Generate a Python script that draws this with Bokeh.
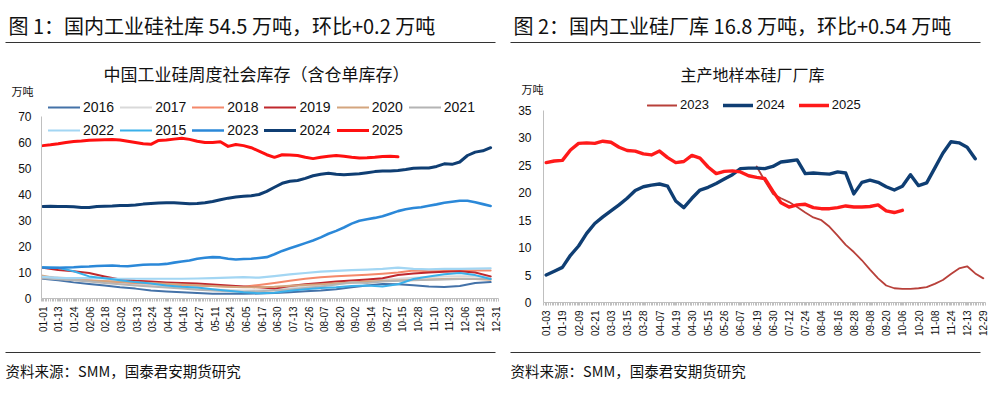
import numpy as np
from bokeh.plotting import figure
from bokeh.models import Range1d, FixedTicker, Label, Legend, LegendItem
from bokeh.layouts import row
from bokeh.embed import file_html
from bokeh.resources import INLINE

# ---------------- data: left chart (social inventory, 万吨) ----------------
LEFT_TICKS = ["01-01", "01-13", "01-24", "02-06", "02-18", "03-02", "03-13", "03-24",
              "04-04", "04-16", "04-27", "05-11", "05-24", "06-05", "06-17", "06-30",
              "07-13", "07-26", "08-07", "08-20", "09-02", "09-14", "09-27", "10-15",
              "10-28", "11-10", "11-23", "12-06", "12-18", "12-31"]
LEFT_STEP = 0.494   # spacing of weekly samples, in tick-label units

SOC_2016 = [7.6, 7.0, 6.2, 5.6, 5.0, 4.3, 3.8, 3.1, 2.7, 2.4, 2.1, 1.8, 1.8, 1.8, 1.9,
            2.1, 2.4, 2.8, 3.1, 3.6, 4.3, 5.0, 5.6, 5.5, 5.1, 4.6, 4.4, 4.8, 6.0, 6.3]
SOC_2017 = [8.5, 8.2, 7.6, 7.0, 6.5, 6.0, 5.5, 5.0, 4.6, 4.2, 3.8, 3.5, 3.3, 3.1, 3.2,
            3.5, 4.0, 4.5, 5.0, 5.5, 6.0, 6.6, 7.2, 7.6, 8.0, 8.3, 8.5, 8.6, 8.6, 8.5]
SOC_2018 = [8.2, 7.8, 7.4, 7.0, 6.6, 6.3, 6.0, 5.8, 5.5, 5.2, 5.0, 4.8, 4.6, 4.5, 5.2,
            6.0, 6.8, 7.6, 8.2, 8.6, 8.8, 9.1, 9.5, 10.0, 10.8, 10.5, 10.6, 10.8, 10.8, 10.8]
SOC_2019 = [11.8, 11.0, 10.5, 9.8, 8.5, 7.3, 6.8, 6.5, 6.2, 6.0, 5.8, 5.4, 5.0, 4.6, 4.3,
            3.8, 4.8, 5.5, 6.0, 6.5, 6.9, 7.3, 7.8, 9.0, 9.6, 10.0, 10.3, 10.5, 10.0, 8.5]
SOC_2020 = [8.8, 7.6, 7.2, 6.8, 6.6, 6.4, 6.2, 6.0, 5.7, 5.4, 5.1, 4.8, 4.5, 4.3, 4.3,
            4.5, 4.9, 5.2, 5.5, 5.9, 6.2, 6.5, 6.7, 6.9, 7.1, 7.3, 7.5, 7.6, 7.5, 7.2]
SOC_2021 = [7.8, 7.4, 7.0, 6.5, 6.0, 5.5, 5.0, 4.6, 4.2, 3.8, 3.4, 3.1, 2.8, 2.6, 2.8,
            3.1, 3.5, 4.0, 4.6, 5.4, 6.2, 6.0, 6.5, 6.8, 7.0, 7.2, 7.3, 7.5, 7.6, 7.6]
SOC_2022 = [8.3, 7.9, 7.8, 7.8, 7.7, 7.6, 7.6, 7.6, 7.6, 7.6, 7.7, 7.8, 8.0, 8.2, 8.0,
            8.6, 9.3, 9.8, 10.3, 10.6, 10.9, 11.1, 11.4, 11.9, 11.4, 11.2, 11.4, 11.4, 11.5, 11.6]
SOC_2015 = [12.0, 11.8, 10.5, 8.5, 7.8, 7.0, 6.3, 5.8, 5.0, 4.5, 4.2, 3.6, 3.0, 2.4, 2.0,
            2.2, 3.0, 3.6, 4.0, 4.3, 4.8, 5.0, 4.6, 5.5, 7.5, 8.5, 9.3, 9.8, 9.0, 7.5]
SOC_2023 = [11.9, 11.8, 11.8, 11.9, 12.0, 12.2, 12.3, 12.5, 12.6, 12.7, 12.5, 12.4, 12.7, 13.0,
            13.1, 13.1, 13.3, 13.8, 14.2, 14.6, 15.3, 15.7, 15.9, 15.8, 15.3, 15.0, 15.2, 15.3,
            15.6, 15.9, 17.0, 18.3, 19.3, 20.3, 21.3, 22.3, 23.5, 24.9, 26.0, 27.3, 28.8, 29.9,
            30.5, 31.0, 31.6, 32.6, 33.6, 34.3, 34.8, 35.1, 35.7, 36.2, 36.8, 37.2, 37.6, 37.6,
            37.0, 36.3, 35.6]
SOC_2024 = [35.4, 35.5, 35.4, 35.4, 35.3, 35.0, 35.0, 35.4, 35.5, 35.6, 35.8, 35.8, 36.0, 36.3,
            36.5, 36.7, 36.8, 36.8, 36.6, 36.4, 36.5, 36.8, 37.3, 38.0, 38.6, 39.0, 39.3, 39.5,
            40.0, 41.2, 42.8, 44.3, 45.1, 45.4, 46.2, 47.2, 47.8, 48.2, 47.8, 47.6, 47.8, 48.0,
            48.4, 48.8, 49.0, 49.0, 49.2, 49.6, 50.1, 50.2, 50.2, 50.8, 51.8, 51.6, 52.5, 55.0,
            56.3, 56.8, 58.0]
SOC_2025 = [58.8, 59.1, 59.5, 60.0, 60.4, 60.6, 60.9, 61.0, 61.1, 61.2, 61.0, 60.5, 60.0, 59.5,
            59.3, 60.8, 61.0, 61.3, 61.6, 61.2, 60.5, 60.0, 60.0, 60.3, 58.5, 59.2, 58.8, 58.0,
            56.7, 55.3, 54.3, 55.3, 55.2, 55.0, 54.3, 53.8, 54.3, 54.7, 55.0, 54.7, 54.3, 54.0,
            54.1, 54.3, 54.6, 54.7, 54.5]

LEFT_SERIES = [
    ("2016", SOC_2016, 2, "#4472A8", 2.0),
    ("2017", SOC_2017, 2, "#D9D9D9", 2.0),
    ("2018", SOC_2018, 2, "#F4886A", 2.0),
    ("2019", SOC_2019, 2, "#C0282D", 2.0),
    ("2020", SOC_2020, 2, "#D4A57E", 2.0),
    ("2021", SOC_2021, 2, "#B4B4B4", 2.0),
    ("2022", SOC_2022, 2, "#A3D6F3", 2.2),
    ("2015", SOC_2015, 2, "#3AB0EA", 2.0),
    ("2023", SOC_2023, 1, "#2B88D8", 2.6),
    ("2024", SOC_2024, 1, "#0F3E73", 3.0),
    ("2025", SOC_2025, 1, "#FF1010", 3.0),
]

# ---------------- data: right chart (factory inventory, 万吨) ----------------
RIGHT_TICKS = ["01-03", "01-19", "02-09", "02-21", "03-03", "03-15", "03-28", "04-07",
               "04-19", "04-30", "05-15", "05-26", "06-07", "06-19", "06-30", "07-12",
               "07-24", "08-04", "08-16", "08-28", "09-08", "09-20", "10-06", "10-20",
               "11-08", "11-24", "12-13", "12-29"]
RIGHT_STEP = 0.5
FAC_2023_START = 13.0
FAC_2023 = [24.8, 22.2, 19.8, 19.0, 18.3, 17.4, 16.4, 15.5, 15.0, 13.8, 12.2, 10.5, 9.2, 7.7,
            6.0, 4.4, 3.1, 2.6, 2.5, 2.5, 2.6, 2.8, 3.4, 4.1, 5.2, 6.2, 6.6, 5.3, 4.4]
FAC_2024 = [5.0, 5.7, 6.4, 8.6, 10.3, 12.6, 14.4, 15.6, 16.7, 17.8, 19.0, 20.4, 21.1, 21.4,
            21.6, 21.2, 18.5, 17.3, 19.0, 20.5, 21.0, 21.7, 22.5, 23.3, 24.4, 24.5, 24.5, 24.4,
            24.8, 25.6, 25.8, 26.0, 23.5, 23.6, 23.5, 23.4, 23.8, 23.6, 19.8, 21.9, 22.3, 21.9,
            21.1, 20.5, 21.2, 23.3, 21.3, 21.8, 24.5, 27.2, 29.3, 29.1, 28.3, 26.2]
FAC_2025 = [25.5, 25.8, 25.9, 27.8, 29.0, 29.1, 29.0, 29.4, 29.2, 28.3, 27.7, 27.6, 27.1, 26.9,
            27.6, 26.4, 25.5, 25.7, 26.8, 26.3, 24.7, 23.5, 23.9, 24.0, 23.8, 23.1, 22.8, 22.6,
            20.3, 18.2, 17.4, 17.8, 17.9, 17.3, 17.1, 17.1, 17.3, 17.6, 17.4, 17.4, 17.5, 17.8,
            16.7, 16.4, 16.8]

RIGHT_SERIES = [
    ("2023", FAC_2023, FAC_2023_START, "#B8403A", 1.8),
    ("2024", FAC_2024, 0.0, "#0F3E73", 3.4),
    ("2025", FAC_2025, 0.0, "#FF1A1A", 3.4),
]

CJK = "Noto Sans CJK SC"
LAT = "Liberation Sans"
AXIS_GRAY = "#BFBFBF"
TXT = "#111111"
H = 395


class Panel:
    """Pixel geometry of one panel: the frame is the whole canvas, axes sit at fixed spots."""

    def __init__(self, width, tick0_px, tick_px, zero_px, unit_px, axis_left_px, axis_right_px):
        self.w = width
        self.t0, self.tp = tick0_px, tick_px
        self.z0, self.up = zero_px, unit_px
        self.axl, self.axr = axis_left_px, axis_right_px

    def X(self, px):
        return (px - self.t0) / self.tp

    def Y(self, py):
        return (self.z0 - py) / self.up


def make_panel(g, labels, ymax, ystep, y_standoff):
    p = figure(width=g.w, height=H, output_backend="svg", toolbar_location=None,
               x_range=Range1d(g.X(0), g.X(g.w)), y_range=Range1d(g.Y(H), g.Y(0)),
               min_border=0, min_border_left=0, min_border_right=0,
               min_border_top=0, min_border_bottom=0)
    p.outline_line_color = None
    p.xgrid.visible = False
    p.ygrid.visible = False
    p.background_fill_color = "white"
    p.border_fill_color = "white"

    x0, x1 = g.X(g.axl), g.X(g.axr)
    xa = p.xaxis[0]
    xa.fixed_location = 0
    xa.bounds = (x0, x1)
    xa.ticker = FixedTicker(ticks=list(range(len(labels))),
                            minor_ticks=list(np.linspace(x0, x1, 260)))
    xa.major_label_overrides = {i: t for i, t in enumerate(labels)}
    xa.major_label_orientation = np.pi / 2
    xa.axis_line_color = AXIS_GRAY
    xa.major_tick_line_color = AXIS_GRAY
    xa.minor_tick_line_color = AXIS_GRAY
    xa.major_tick_out = 3
    xa.major_tick_in = 0
    xa.minor_tick_out = 3
    xa.minor_tick_in = 0
    xa.major_label_standoff = 5
    xa.major_label_text_font = LAT
    xa.major_label_text_font_size = "10px"
    xa.major_label_text_color = TXT

    ya = p.yaxis[0]
    ya.fixed_location = x0
    ya.bounds = (0, ymax)
    ya.ticker = FixedTicker(ticks=list(range(0, ymax + 1, ystep)), minor_ticks=[])
    ya.axis_line_color = AXIS_GRAY
    ya.major_tick_line_color = None
    ya.major_tick_out = 0
    ya.major_tick_in = 0
    ya.minor_tick_line_color = None
    ya.major_label_standoff = y_standoff
    ya.major_label_text_font = LAT
    ya.major_label_text_font_size = "12px"
    ya.major_label_text_color = TXT
    return p


def text(p, g, px, py, s, size, align="left"):
    p.add_layout(Label(x=g.X(px), y=g.Y(py), text=s, text_font=CJK, text_font_size=size,
                       text_baseline="middle", text_align=align, text_color=TXT))


def rule(p, g, px0, px1, py):
    p.segment(x0=[g.X(px0)], y0=[g.Y(py)], x1=[g.X(px1)], y1=[g.Y(py)],
              line_color="#333333", line_width=1.2)


def make_legend(items, vx, vy, gw, fs, spacing):
    return Legend(items=items, orientation="horizontal", location=(vx, vy),
                  glyph_width=gw, glyph_height=16, label_height=16, label_standoff=3,
                  spacing=spacing, padding=0, margin=0, border_line_color=None,
                  background_fill_alpha=0, label_text_font=LAT, label_text_font_size=fs,
                  label_text_color=TXT)


# ================= left panel =================
LW = 502
gl = Panel(LW, 42.3, 15.63, 298, 2.6, 41, 498)
pl = make_panel(gl, LEFT_TICKS, 70, 10, 10)
left_r = {}
for name, vals, mult, color, w in LEFT_SERIES:
    xs = np.arange(len(vals)) * LEFT_STEP * mult
    left_r[name] = pl.line(xs, vals, line_color=color, line_width=w,
                           line_join="round", line_cap="round")
row1 = ["2016", "2017", "2018", "2019", "2020", "2021"]
row2 = ["2022", "2015", "2023", "2024", "2025"]
pl.add_layout(make_legend([LegendItem(label=n, renderers=[left_r[n]]) for n in row1],
                          48, H - 114.5, 32, "14px", 6))
pl.add_layout(make_legend([LegendItem(label=n, renderers=[left_r[n]]) for n in row2],
                          48, H - 137.5, 32, "14px", 6))
text(pl, gl, 8, 25, "图 1：国内工业硅社库 54.5 万吨，环比+0.2 万吨", "20px")
rule(pl, gl, 5, 495, 42)
text(pl, gl, 256, 73, "中国工业硅周度社会库存（含仓单库存）", "17px", "center")
text(pl, gl, 22, 90, "万吨", "11px", "center")
rule(pl, gl, 5, 495, 352)
text(pl, gl, 5, 370, "资料来源：SMM，国泰君安期货研究", "14.5px")

# ================= right panel =================
RW = 991 - LW
gr = Panel(RW, 545.7 - LW, 16.19, 302, 5.486, 543 - LW, 985 - LW)
pr = make_panel(gr, RIGHT_TICKS, 35, 5, 12)
right_items = []
for name, vals, start, color, w in RIGHT_SERIES:
    xs = start + np.arange(len(vals)) * RIGHT_STEP
    r = pr.line(xs, vals, line_color=color, line_width=w, line_join="round", line_cap="round")
    right_items.append(LegendItem(label=name, renderers=[r]))
pr.add_layout(make_legend(right_items, 647 - LW, H - 112.8, 30, "13px", 14))
text(pr, gr, 513 - LW, 25, "图 2：国内工业硅厂库 16.8 万吨，环比+0.54 万吨", "20px")
rule(pr, gr, 510 - LW, 980 - LW, 42)
text(pr, gr, 752 - LW, 73, "主产地样本硅厂厂库", "16px", "center")
text(pr, gr, 532 - LW, 88, "万吨", "11px", "center")
rule(pr, gr, 510 - LW, 980 - LW, 352)
text(pr, gr, 510 - LW, 370, "资料来源：SMM，国泰君安期货研究", "14.5px")

layout = row(pl, pr, spacing=0)
open("out.html", "w").write(file_html(layout, INLINE))
